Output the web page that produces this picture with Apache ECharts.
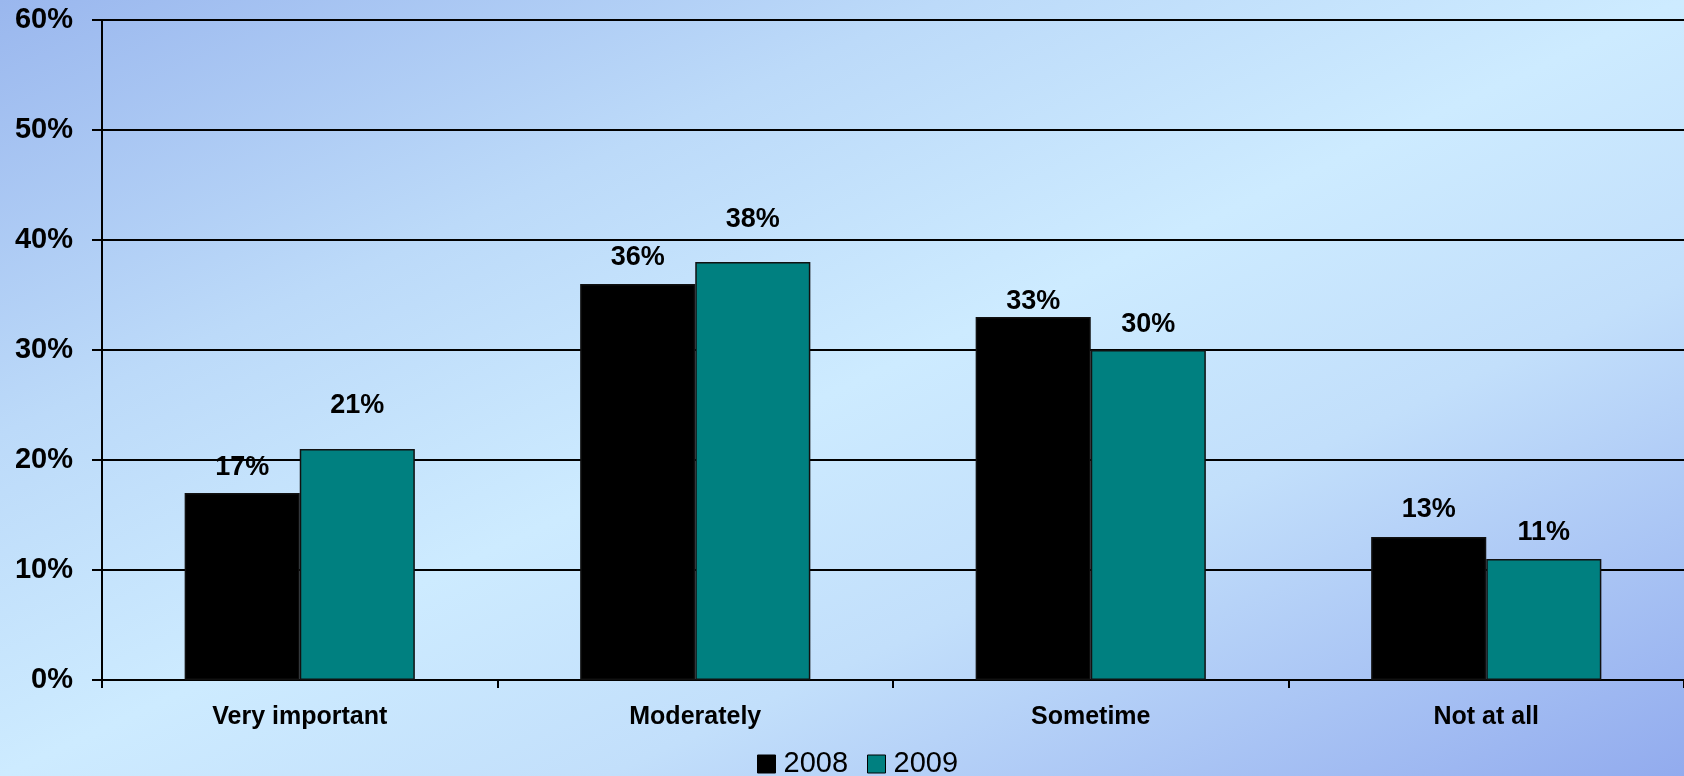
<!DOCTYPE html>
<html>
<head>
<meta charset="utf-8">
<title>Importance rating, 2008 vs 2009</title>
<script src="https://cdn.jsdelivr.net/npm/echarts@6/dist/echarts.min.js"></script>
<style>
  html, body { margin: 0; padding: 0; }
  #chart {
    width: 1684px;
    height: 776px;
    background: linear-gradient(to bottom right, #9ab7ee 0%, #bcdaf9 28%, #cdebff 50%, #c2dffb 68%, #92abee 100%);
  }
</style>
</head>
<body>
<div id="chart"></div>
<script>
// Survey answers per year (percent of respondents)
const categories = ['Very important', 'Moderately', 'Sometime', 'Not at all'];
const seriesNames = ['2008', '2009'];
const values2008 = [17, 36, 33, 13];
const values2009 = [21, 38, 30, 11];
const yTicks = [0, 10, 20, 30, 40, 50, 60];

// Label lift above each bar (px), per series and category
const labelLift2008 = [12, 13, 2, 14];
const labelLift2009 = [30, 29, 12, 13];

const FONT = '"Liberation Sans", Arial, sans-serif';

function buildData(values, lifts) {
  return values.map((v, i) => ({
    value: v,
    label: { distance: lifts[i] }
  }));
}

function barSeries(name, values, lifts, color) {
  return {
    name: name,
    type: 'bar',
    data: buildData(values, lifts),
    barGap: '0%',
    barCategoryGap: '41.8%',
    itemStyle: { color: color, borderColor: '#111', borderWidth: 1.5 },
    label: {
      show: true,
      position: 'top',
      formatter: p => p.value + '%',
      fontFamily: FONT,
      fontWeight: 'bold',
      fontSize: 27,
      color: '#000',
      lineHeight: 27
    },
    emphasis: { disabled: true },
    animation: false
  };
}

const chart = echarts.init(document.getElementById('chart'), null, { renderer: 'canvas' });

chart.setOption({
  backgroundColor: 'transparent',
  animation: false,
  grid: { left: 102, right: 0, top: 20, bottom: 96, containLabel: false },
  legend: {
    data: seriesNames,
    left: 757,
    top: 749,
    padding: 0,
    itemWidth: 18,
    itemHeight: 18,
    itemGap: 19,
    icon: 'rect',
    itemStyle: { borderColor: '#000', borderWidth: 1 },
    textStyle: {
      fontFamily: FONT,
      fontSize: 29,
      color: '#000',
      lineHeight: 30,
      padding: [0, 0, 0, 3]
    }
  },
  xAxis: {
    type: 'category',
    data: categories,
    axisLine: { lineStyle: { color: '#000', width: 2 } },
    axisTick: { show: true, length: 8, lineStyle: { color: '#000', width: 2 } },
    axisLabel: {
      fontFamily: FONT,
      fontWeight: 'bold',
      fontSize: 25,
      color: '#000',
      margin: 25
    }
  },
  yAxis: {
    type: 'value',
    min: yTicks[0],
    max: yTicks[yTicks.length - 1],
    interval: yTicks[1] - yTicks[0],
    axisLine: { show: true, lineStyle: { color: '#000', width: 2 } },
    axisTick: { show: true, length: 10, lineStyle: { color: '#000', width: 2 } },
    splitLine: { show: true, lineStyle: { color: '#000', width: 2 } },
    axisLabel: {
      formatter: v => v + '%',
      fontFamily: FONT,
      fontWeight: 'bold',
      fontSize: 29,
      color: '#000',
      margin: 29
    }
  },
  series: [
    barSeries(seriesNames[0], values2008, labelLift2008, '#000000'),
    barSeries(seriesNames[1], values2009, labelLift2009, '#008080')
  ]
});
</script>
</body>
</html>
